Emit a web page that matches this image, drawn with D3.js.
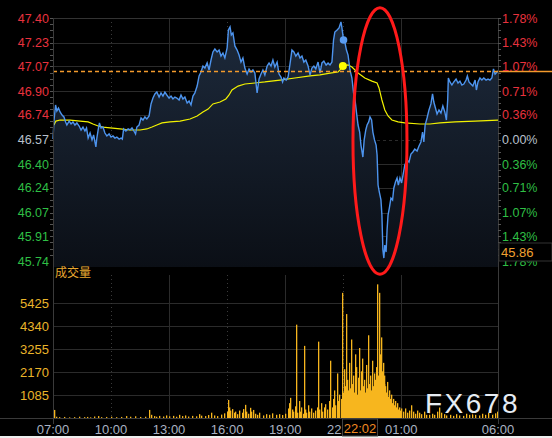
<!DOCTYPE html>
<html><head><meta charset="utf-8">
<script src="https://cdn.jsdelivr.net/npm/d3@7/dist/d3.min.js"></script>
<style>html,body{margin:0;padding:0;background:#000;}svg{display:block;}</style>
</head><body><svg id="c" width="552" height="438"></svg>
<script>
// ---------- DATA ----------
const timeLabels = ["07:00","10:00","13:00","16:00","19:00","22:00","01:00","06:00"];
const timeLabelMinutes = [0,180,360,540,720,900,1080,1380];
const priceTicks = [47.40,47.23,47.07,46.90,46.74,46.57,46.40,46.24,46.07,45.91,45.74];
const pctLabels = ["1.78%","1.43%","1.07%","0.71%","0.36%","0.00%","0.36%","0.71%","1.07%","1.43%","1.78%"];
const basePrice = 46.57;
const volTicks = [1085,2170,3255,4340,5425];
const refPrice = 47.035;          // dashed orange line
const lastPriceLabel = "45.86";
const cursorTimeLabel = "22:02";
const cursorMinute = 901;
// price series: [minutes after 07:00, price]
const prices = [
[0,46.573],[3,46.696],[8,46.806],[12,46.765],[17,46.785],[22,46.758],[28,46.737],[34,46.724],[39,46.690],[43,46.669],
[50,46.696],[56,46.676],[62,46.690],[68,46.669],[74,46.683],[81,46.662],[87,46.635],[93,46.655],[99,46.628],[104,46.649],
[109,46.580],[115,46.614],[121,46.567],[126,46.601],[130,46.553],[133,46.519],[136,46.580],[140,46.635],[144,46.683],[149,46.649],
[155,46.655],[161,46.614],[167,46.594],[174,46.608],[180,46.587],[186,46.594],[192,46.580],[198,46.587],[205,46.573],[211,46.580],
[215,46.573],[219,46.642],[226,46.628],[233,46.642],[239,46.635],[245,46.649],[251,46.628],[256,46.608],[260,46.655],[267,46.669],
[273,46.717],[279,46.703],[285,46.724],[291,46.710],[298,46.731],[304,46.813],[310,46.853],[316,46.881],[322,46.894],[329,46.860],
[335,46.888],[341,46.867],[347,46.894],[353,46.874],[360,46.853],[366,46.867],[372,46.847],[378,46.860],[384,46.853],[391,46.840],
[397,46.874],[403,46.847],[409,46.860],[416,46.819],[422,46.833],[428,46.806],[434,46.867],[440,46.888],[447,46.935],[453,47.004],
[459,47.031],[465,47.072],[471,47.058],[478,47.093],[484,47.045],[490,47.113],[496,47.168],[502,47.188],[509,47.168],[515,47.181],
[521,47.140],[527,47.161],[533,47.127],[540,47.195],[544,47.318],[549,47.339],[553,47.284],[558,47.298],[564,47.209],[571,47.181],
[577,47.147],[583,47.099],[589,47.127],[595,47.058],[602,47.017],[608,47.052],[614,47.031],[620,47.045],[626,47.024],[633,46.888],
[639,46.983],[645,47.017],[651,47.045],[657,47.011],[664,47.072],[670,47.093],[676,47.072],[682,47.113],[688,47.065],[695,47.099],
[701,47.017],[707,46.997],[712,46.963],[716,46.990],[723,46.976],[729,46.997],[735,47.086],[741,47.181],[747,47.168],[753,47.140],
[760,47.161],[766,47.127],[772,47.140],[778,47.099],[784,47.113],[791,47.072],[797,47.011],[803,47.058],[809,47.072],[815,47.052],
[822,47.099],[828,47.024],[834,47.093],[840,47.106],[847,47.079],[853,47.093],[859,47.079],[865,47.099],[870,47.250],[874,47.304],
[881,47.318],[887,47.332],[893,47.373],[896,47.332],[901,47.250],[905,47.236],[910,47.181],[915,47.147],[921,47.045],[927,46.990],
[932,46.888],[936,46.853],[941,46.758],[946,46.669],[951,46.621],[955,46.532],[961,46.450],[965,46.567],[970,46.635],[974,46.669],
[979,46.690],[983,46.724],[988,46.703],[992,46.621],[997,46.567],[1002,46.532],[1005,46.464],[1008,46.259],[1012,46.211],[1017,46.157],
[1020,46.054],[1023,45.815],[1026,45.760],[1029,45.849],[1033,45.801],[1036,45.952],[1039,46.054],[1043,46.102],[1048,46.170],[1053,46.157],
[1057,46.239],[1062,46.280],[1067,46.307],[1071,46.259],[1076,46.307],[1081,46.273],[1085,46.321],[1091,46.396],[1098,46.430],[1104,46.416],
[1110,46.471],[1116,46.485],[1122,46.505],[1129,46.491],[1135,46.526],[1141,46.553],[1146,46.621],[1150,46.553],[1154,46.669],[1160,46.717],
[1166,46.772],[1172,46.813],[1177,46.881],[1181,46.826],[1186,46.785],[1191,46.744],[1197,46.772],[1203,46.751],[1209,46.799],[1215,46.758],
[1220,46.703],[1224,46.840],[1226,46.990],[1231,46.963],[1237,46.942],[1243,46.963],[1250,46.983],[1256,46.956],[1262,46.969],[1268,46.942],
[1274,46.949],[1281,46.976],[1285,47.004],[1290,46.963],[1296,46.949],[1302,46.935],[1309,46.976],[1313,46.908],[1318,46.963],[1324,46.990],
[1330,46.976],[1336,46.990],[1343,46.976],[1349,46.983],[1355,46.976],[1361,46.990],[1366,47.052],[1371,47.017],[1377,47.031],[1380,47.038]
];
// average price line: [minutes, price]
const avgPrices = [
[3,46.669],[9,46.696],[22,46.703],[53,46.703],[84,46.696],[109,46.690],[124,46.676],[140,46.662],[155,46.655],[177,46.649],
[208,46.642],[239,46.635],[270,46.635],[291,46.642],[307,46.655],[322,46.669],[338,46.683],[363,46.690],[394,46.696],[425,46.710],
[447,46.731],[465,46.758],[481,46.778],[496,46.813],[518,46.826],[536,46.847],[546,46.874],[555,46.908],[574,46.935],[595,46.949],
[626,46.956],[657,46.963],[704,46.976],[750,46.990],[797,47.004],[828,47.011],[859,47.024],[884,47.031],[893,47.052],[899,47.072],
[915,47.079],[927,47.065],[946,47.024],[967,46.990],[989,46.969],[1005,46.956],[1011,46.922],[1020,46.840],[1029,46.772],[1039,46.731],
[1051,46.703],[1070,46.690],[1091,46.683],[1138,46.676],[1169,46.676],[1200,46.683],[1247,46.690],[1309,46.696],[1380,46.703]
];
const dotAvg = [899,47.072];
const dotPrice = [901,47.250];
// volume bars: [minutes, volume]
const volumes = [
[3,380],[9,60],[20,40],[35,50],[50,30],[66,40],[80,60],[95,40],[105,50],[115,30],[128,70],[140,90],[150,40],[165,50],[180,60],
[195,40],[210,50],[225,90],[240,60],[255,80],[270,50],[285,60],[298,380],[305,150],[312,90],[320,60],[330,100],[340,70],[350,120],
[360,80],[372,100],[380,60],[392,150],[400,90],[410,120],[420,70],[430,100],[445,80],[452,180],[460,110],[470,90],[480,140],[490,250],
[500,120],[510,90],[520,160],[530,220],[540,300],[543,850],[547,500],[550,350],[555,420],[560,250],[565,300],[570,180],[578,350],
[585,250],[590,420],[595,620],[600,300],[605,200],[610,480],[615,300],[620,380],[625,200],[632,150],[640,250],[650,120],[660,180],
[670,150],[680,220],[690,150],[700,180],[710,140],[720,200],[728,450],[732,700],[736,950],[740,400],[745,300],[750,550],[754,4400],
[757,250],[762,800],[766,300],[770,500],[774,200],[778,3400],[782,400],[786,250],[790,600],[795,300],[800,450],[806,250],[812,350],
[818,500],[822,3600],[826,400],[830,700],[835,300],[840,500],[845,650],[850,400],[855,800],[860,2700],[864,500],[868,900],[872,1300],
[876,600],[880,2100],[884,800],[888,1100],[892,900],[896,5900],[899,1200],[902,2300],[905,1500],[908,4900],[911,1800],[914,1300],
[917,2600],[920,1400],[923,3700],[926,1600],[929,2000],[932,1200],[935,3000],[938,1500],[941,2400],[944,1100],[947,1900],[950,3300],
[953,1300],[956,2200],[959,2800],[962,1500],[965,1800],[968,1200],[971,2500],[974,1400],[977,3900],[980,1600],[983,2000],[986,1300],
[989,2700],[992,1500],[995,2100],[998,1800],[1001,2400],[1004,6300],[1007,2000],[1010,5900],[1013,3000],[1016,3800],[1019,2200],
[1022,2600],[1025,1600],[1028,2000],[1031,1500],[1034,1200],[1037,1700],[1040,1000],[1043,1300],[1046,900],[1049,1100],[1052,700],
[1055,900],[1058,600],[1061,800],[1064,500],[1067,700],[1070,400],[1073,500],[1076,350],[1080,450],[1085,300],[1092,450],[1098,250],
[1104,350],[1110,600],[1116,300],[1122,200],[1128,350],[1135,250],[1142,180],[1150,300],[1158,150],[1166,250],[1174,200],[1182,150],
[1190,300],[1198,500],[1204,250],[1212,180],[1220,120],[1230,150],[1240,100],[1250,180],[1260,120],[1270,100],[1280,200],[1290,150],
[1300,250],[1310,180],[1320,120],[1330,200],[1340,150],[1350,250],[1360,180],[1370,220],[1376,300]
];
const volMax = 6270;

// ---------- LAYOUT ----------
const L = 53, R = 498, PT = 18, PB = 261, VT = 285, VB = 418;
const svg = d3.select("#c");
const font = "'Liberation Sans', Arial, sans-serif";
const x = d3.scaleLinear().domain([0,1380]).range([L,R]);
const y = d3.scaleLinear().domain([priceTicks[priceTicks.length-1], priceTicks[0]]).range([PB,PT]);
const yv = d3.scaleLinear().domain([0, volMax]).range([VB, VT]);
const red = "#e8323e", green = "#2fbf45", neutral = "#b8c0cc";

svg.append("rect").attr("width",552).attr("height",438).attr("fill","#000");
svg.append("rect").attr("x",0).attr("y",436).attr("width",552).attr("height",2).attr("fill","#eeeeee");

const defs = svg.append("defs");
const grad = defs.append("linearGradient").attr("id","fillg").attr("x1",0).attr("y1",0).attr("x2",0).attr("y2",1);
grad.append("stop").attr("offset","0%").attr("stop-color","#1d2a3c");
grad.append("stop").attr("offset","100%").attr("stop-color","#0b0f16");

// gridlines price
const g = svg.append("g");
priceTicks.forEach((p,i)=>{
  g.append("line").attr("x1",L).attr("x2",R).attr("y1",Math.round(y(p))+0.5).attr("y2",Math.round(y(p))+0.5)
   .attr("stroke","#2b2b2b").attr("stroke-width",1)
   .attr("stroke-dasharray", p===basePrice ? "3,3" : null);
});
volTicks.forEach(v=>{
  g.append("line").attr("x1",L).attr("x2",R).attr("y1",Math.round(yv(v))+0.5).attr("y2",Math.round(yv(v))+0.5)
   .attr("stroke","#2b2b2b");
});
// vertical gridlines
timeLabelMinutes.forEach((m,i)=>{
  if(i===0||i===timeLabelMinutes.length-1) return;
  const dotted = (i%2===1);
  [[PT,PB+6],[VT-10,VB]].forEach(([a,b])=>{
    g.append("line").attr("x1",Math.round(x(m))+0.5).attr("x2",Math.round(x(m))+0.5).attr("y1",a).attr("y2",b)
     .attr("stroke", dotted ? "#3a3a3a" : "#2b2b2b").attr("stroke-dasharray", dotted ? "1,3" : null);
  });
});

// area + line
const area = d3.area().x(d=>x(d[0])).y0(PB+6).y1(d=>y(d[1]));
svg.append("path").datum(prices).attr("d",area).attr("fill","url(#fillg)");
svg.append("path").datum(avgPrices).attr("d",d3.line().x(d=>x(d[0])).y(d=>y(d[1])))
  .attr("fill","none").attr("stroke","#f2f200").attr("stroke-width",1.2);
svg.append("path").datum(prices).attr("d",d3.line().x(d=>x(d[0])).y(d=>y(d[1])))
  .attr("fill","none").attr("stroke","#4d94ee").attr("stroke-width",1.4);

// reference dashed line
const ry0 = Math.round(y(refPrice))+0.5;
svg.append("line").attr("x1",L).attr("x2",R).attr("y1",ry0).attr("y2",ry0)
  .attr("stroke","#f39a2c").attr("stroke-dasharray","4,3").attr("stroke-width",1.3);
svg.append("line").attr("x1",R).attr("x2",552).attr("y1",ry0).attr("y2",ry0)
  .attr("stroke","#f39a2c").attr("stroke-width",1.3);

// dots
svg.append("circle").attr("cx",x(dotPrice[0])).attr("cy",y(dotPrice[1])).attr("r",3.8).attr("fill","#5a9cf0");
svg.append("circle").attr("cx",x(dotAvg[0])).attr("cy",y(dotAvg[1])).attr("r",4).attr("fill","#ffff00");

// volume bars
svg.append("g").selectAll("rect").data(volumes).join("rect")
  .attr("x",d=>Math.round(x(d[0]))).attr("width",1.3)
  .attr("y",d=>yv(d[1])).attr("height",d=>VB-yv(d[1])).attr("fill","#f7b61e");

// axes lines
svg.append("line").attr("x1",L+0.5).attr("x2",L+0.5).attr("y1",PT).attr("y2",VB+6).attr("stroke","#3a3a3a");
svg.append("line").attr("x1",R+0.5).attr("x2",R+0.5).attr("y1",PT).attr("y2",VB+6).attr("stroke","#3a3a3a");
svg.append("line").attr("x1",0).attr("x2",552).attr("y1",VB+0.5).attr("y2",VB+0.5).attr("stroke","#3a3a3a");
svg.append("line").attr("x1",L).attr("x2",R).attr("y1",PT+0.5).attr("y2",PT+0.5).attr("stroke","#333");
// minor ticks
for(let i=0;i<priceTicks.length-1;i++){
  for(let k=0;k<4;k++){
    const yy = Math.round(y(priceTicks[i]) + k*(y(priceTicks[i+1])-y(priceTicks[i]))/4)+0.5;
    svg.append("line").attr("x1",L-3).attr("x2",L).attr("y1",yy).attr("y2",yy).attr("stroke","#555");
    svg.append("line").attr("x1",R).attr("x2",R+3).attr("y1",yy).attr("y2",yy).attr("stroke","#555");
  }
}

// price labels
priceTicks.forEach((p,i)=>{
  const col = p>basePrice+1e-6 ? red : (p<basePrice-1e-6 ? green : neutral);
  svg.append("text").attr("x",L-4).attr("y",y(p)).attr("dy","0.36em").attr("text-anchor","end")
    .attr("font-family",font).attr("font-size",12.5).attr("fill",col).text(p.toFixed(2));
  svg.append("text").attr("x",R+4).attr("y",y(p)).attr("dy","0.36em").attr("text-anchor","start")
    .attr("font-family",font).attr("font-size",12.5).attr("fill",col).text(pctLabels[i]);
});
// volume labels
volTicks.forEach(v=>{
  svg.append("text").attr("x",L-4).attr("y",yv(v)).attr("dy","0.36em").attr("text-anchor","end")
    .attr("font-family",font).attr("font-size",13).attr("fill","#eab42a").text(v);
});
svg.append("text").attr("x",L+2).attr("y",273).attr("dy","0.36em").attr("font-family","'Noto Sans CJK SC',sans-serif")
  .attr("font-size",12).attr("fill","#e8a830").text("成交量");
// time labels
timeLabels.forEach((t,i)=>{
  svg.append("text").attr("x",x(timeLabelMinutes[i])).attr("y",429).attr("dy","0.36em").attr("text-anchor","middle")
    .attr("font-family",font).attr("font-size",13).attr("fill","#a9b2c2").text(t);
});
// cursor time box
const cx0 = x(cursorMinute);
svg.append("rect").attr("x",cx0-1).attr("y",419).attr("width",35).attr("height",17).attr("fill","#000").attr("stroke","#444");
svg.append("text").attr("x",cx0+16.5).attr("y",428).attr("dy","0.36em").attr("text-anchor","middle")
  .attr("font-family",font).attr("font-size",13).attr("fill","#f08a22").text(cursorTimeLabel);
// last price box
svg.append("rect").attr("x",R+1).attr("y",243).attr("width",53).attr("height",18).attr("fill","#000").attr("stroke","#333");
svg.append("text").attr("x",R+3).attr("y",252).attr("dy","0.36em").attr("font-family",font).attr("font-size",13)
  .attr("fill","#f0a030").text(lastPriceLabel);

// annotation ellipse
svg.append("ellipse").attr("cx",x(1014)).attr("cy",(y(47.47)+y(45.65))/2).attr("rx",27).attr("ry",(y(45.65)-y(47.47))/2)
  .attr("fill","none").attr("stroke","#ff1a1a").attr("stroke-width",3);

// watermark
svg.append("text").attr("x",425).attr("y",413).attr("font-family",font).attr("font-size",28).attr("letter-spacing",2.5)
  .attr("fill","#000").attr("opacity",0.8).attr("transform","translate(1.5,1.5)").text("FX678");
svg.append("text").attr("x",425).attr("y",413).attr("font-family",font).attr("font-size",28).attr("letter-spacing",2.5)
  .attr("fill","#e6ecf3").text("FX678");
</script></body></html>
